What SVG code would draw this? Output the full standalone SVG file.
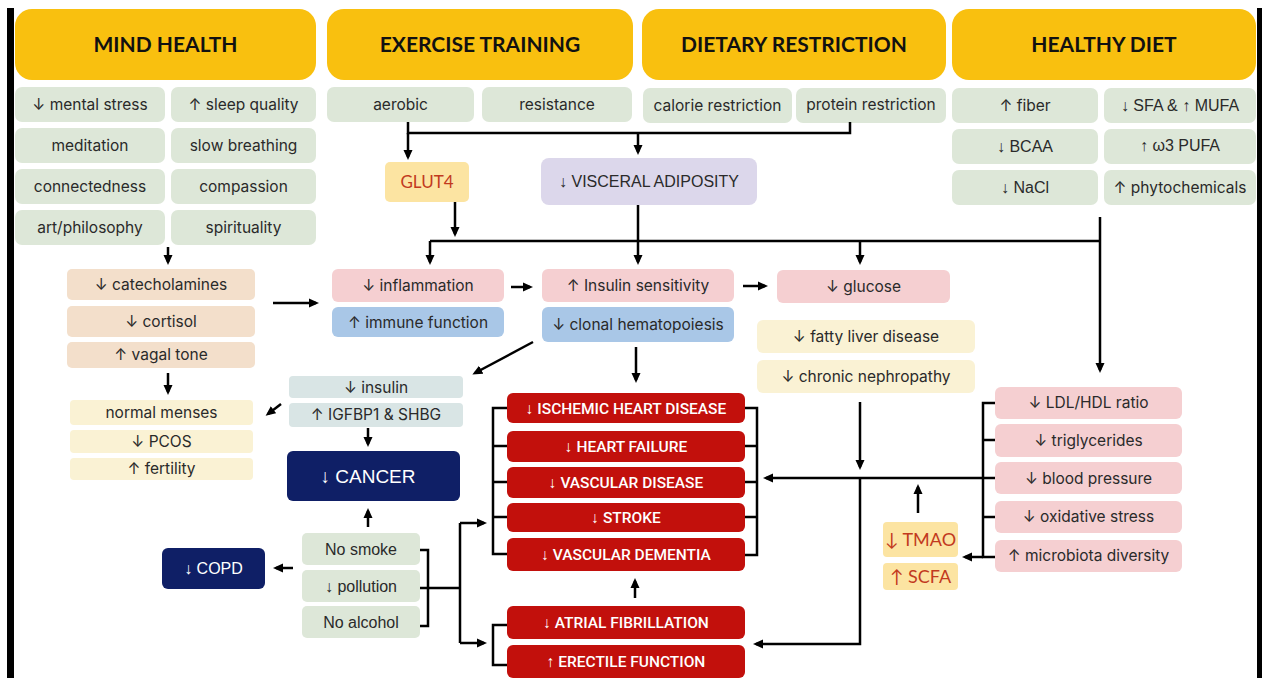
<svg xmlns="http://www.w3.org/2000/svg" width="1262" height="678" viewBox="0 0 1262 678">
<style>
.hd{fill:#F9C00F}
.hdt{font-family:Lato,"Open Sans",sans-serif;font-weight:700;font-size:21px;fill:#111;text-anchor:middle}
.gr{fill:#DDE7D8}
.t{font-family:Inter,"Noto Sans",sans-serif;font-size:15.5px;fill:#2a2a2a;text-anchor:middle}
.a{font-family:"Liberation Sans",Arial,sans-serif;font-size:16px;fill:#2a2a2a;text-anchor:middle}
.pk{fill:#F5CFD1}
.bl{fill:#A9C7E7}
.tan{fill:#F3DFCB}
.ly{fill:#FAF2D4}
.gy{fill:#D9E5E5}
.rd{fill:#C2100C}
.rt{font-family:Roboto,"Liberation Sans",sans-serif;font-weight:500;font-size:15.5px;fill:#fff;text-anchor:middle}
.nv{fill:#0F1F66}
.nt{font-family:"Liberation Sans",Arial,sans-serif;fill:#fff;text-anchor:middle}
.yb{fill:#FCE4A2}
.ot{font-family:Lato,"Liberation Sans",sans-serif;fill:#C23A1E;text-anchor:middle}
.c{fill:none;stroke:#000;stroke-width:2.5}
.ar{marker-end:url(#ah)}
</style>
<defs>
<marker id="ah" viewBox="0 0 10 10" refX="7" refY="5" markerWidth="10" markerHeight="10" markerUnits="userSpaceOnUse" orient="auto">
<path d="M0,0.5 L10,5 L0,9.5 z" fill="#000"/>
</marker>
</defs>
<rect x="0" y="0" width="1262" height="678" fill="#fff"/>
<rect x="7" y="8" width="7" height="670" fill="#000"/>
<rect x="1257" y="8" width="5" height="670" fill="#000"/>

<g id="h-mind"><rect class="hd" x="15" y="9" width="301" height="71" rx="17"/><text class="hdt" x="165.5" y="52">MIND HEALTH</text></g>
<g id="h-exercise"><rect class="hd" x="327" y="9" width="306" height="71" rx="17"/><text class="hdt" x="480" y="52">EXERCISE TRAINING</text></g>
<g id="h-dietary"><rect class="hd" x="642" y="9" width="304" height="71" rx="17"/><text class="hdt" x="794" y="52">DIETARY RESTRICTION</text></g>
<g id="h-healthy"><rect class="hd" x="952" y="9" width="304" height="71" rx="17"/><text class="hdt" x="1104" y="52">HEALTHY DIET</text></g>

<g id="mind-items">
<rect class="gr" x="15" y="87" width="150" height="35" rx="7"/><text class="t" x="90" y="110">↓ mental stress</text>
<rect class="gr" x="171" y="87" width="145" height="35" rx="7"/><text class="t" x="243.5" y="110">↑ sleep quality</text>
<rect class="gr" x="15" y="128" width="150" height="35" rx="7"/><text class="t" x="90" y="151">meditation</text>
<rect class="gr" x="171" y="128" width="145" height="35" rx="7"/><text class="t" x="243.5" y="151">slow breathing</text>
<rect class="gr" x="15" y="169" width="150" height="35" rx="7"/><text class="t" x="90" y="192">connectedness</text>
<rect class="gr" x="171" y="169" width="145" height="35" rx="7"/><text class="t" x="243.5" y="192">compassion</text>
<rect class="gr" x="15" y="210" width="150" height="35" rx="7"/><text class="t" x="90" y="233">art/philosophy</text>
<rect class="gr" x="171" y="210" width="145" height="35" rx="7"/><text class="t" x="243.5" y="233">spirituality</text>
</g>
<g id="exercise-items">
<rect class="gr" x="327" y="87" width="147" height="35" rx="7"/><text class="t" x="400.5" y="110">aerobic</text>
<rect class="gr" x="482" y="87" width="150" height="35" rx="7"/><text class="t" x="557" y="110">resistance</text>
</g>
<g id="dietary-items">
<rect class="gr" x="643" y="88" width="149" height="35" rx="7"/><text class="t" x="717.5" y="111">calorie restriction</text>
<rect class="gr" x="796" y="88" width="150" height="35" rx="7"/><text class="t" x="871" y="110">protein restriction</text>
</g>
<g id="healthy-items">
<rect class="gr" x="952" y="88" width="146" height="35" rx="7"/><text class="t" x="1025" y="111">↑ fiber</text>
<rect class="gr" x="1104" y="88" width="152" height="35" rx="7"/><text class="a" x="1180" y="111">↓ SFA &amp; ↑ MUFA</text>
<rect class="gr" x="952" y="129" width="146" height="35" rx="7"/><text class="a" x="1025" y="152">↓ BCAA</text>
<rect class="gr" x="1104" y="129" width="152" height="35" rx="7"/><text class="a" x="1180" y="151">↑ ω3 PUFA</text>
<rect class="gr" x="952" y="170" width="146" height="35" rx="7"/><text class="a" x="1025" y="193">↓ NaCl</text>
<rect class="gr" x="1104" y="170" width="152" height="35" rx="7"/><text class="t" x="1180" y="193">↑ phytochemicals</text>
</g>

<g id="glut4"><rect class="yb" x="385" y="162" width="84" height="40" rx="5"/><text class="ot" x="427" y="188" font-size="17">GLUT4</text></g>
<g id="visceral"><rect fill="#DCD7EB" x="541" y="158" width="216" height="47" rx="8"/><text class="a" x="649" y="187" font-size="16.5" fill="#222">↓ VISCERAL ADIPOSITY</text></g>

<g id="stress-hormones">
<rect class="tan" x="67" y="269" width="188" height="31" rx="5"/><text class="t" x="161" y="290">↓ catecholamines</text>
<rect class="tan" x="67" y="306" width="188" height="31" rx="5"/><text class="t" x="161" y="327">↓ cortisol</text>
<rect class="tan" x="67" y="342" width="188" height="26" rx="5"/><text class="t" x="161" y="360">↑ vagal tone</text>
</g>
<g id="reproductive">
<rect class="ly" x="70" y="400" width="183" height="25" rx="4"/><text class="t" x="161.5" y="418" font-size="15">normal menses</text>
<rect class="ly" x="70" y="430" width="183" height="23" rx="4"/><text class="t" x="161.5" y="447" font-size="15">↓ PCOS</text>
<rect class="ly" x="70" y="458" width="183" height="22" rx="4"/><text class="t" x="161.5" y="474" font-size="15">↑ fertility</text>
</g>

<g id="inflammation">
<rect class="pk" x="332" y="269" width="172" height="33" rx="6"/><text class="t" x="418" y="291">↓ inflammation</text>
<rect class="bl" x="332" y="307" width="172" height="30" rx="6"/><text class="t" x="418" y="328">↑ immune function</text>
</g>
<g id="insulin-sensitivity">
<rect class="pk" x="542" y="269" width="192" height="33" rx="6"/><text class="t" x="638" y="291">↑ Insulin sensitivity</text>
<rect class="bl" x="542" y="307" width="192" height="35" rx="6"/><text class="t" x="638" y="330">↓ clonal hematopoiesis</text>
</g>
<g id="glucose"><rect class="pk" x="777" y="270" width="173" height="33" rx="6"/><text class="t" x="863.5" y="292">↓ glucose</text></g>
<g id="liver-kidney">
<rect class="ly" x="757" y="320" width="218" height="33" rx="6"/><text class="t" x="866" y="342">↓ fatty liver disease</text>
<rect class="ly" x="757" y="360" width="218" height="33" rx="6"/><text class="t" x="866" y="382">↓ chronic nephropathy</text>
</g>

<g id="insulin">
<rect class="gy" x="289" y="376" width="174" height="22" rx="4"/><text class="t" x="376" y="393" font-size="15">↓ insulin</text>
<rect class="gy" x="289" y="403" width="174" height="24" rx="4"/><text class="t" x="376" y="420" font-size="15">↑ IGFBP1 &amp; SHBG</text>
</g>
<g id="cancer"><rect class="nv" x="287" y="451" width="173" height="50" rx="6"/><text class="nt" x="368" y="483" font-size="19">↓ CANCER</text></g>
<g id="copd"><rect class="nv" x="162" y="548" width="103" height="41" rx="6"/><text class="nt" x="213.5" y="574" font-size="16">↓ COPD</text></g>
<g id="environment">
<rect class="gr" x="302" y="533" width="118" height="32" rx="5"/><text class="a" x="361" y="555">No smoke</text>
<rect class="gr" x="302" y="570" width="118" height="32" rx="5"/><text class="a" x="361" y="592">↓ pollution</text>
<rect class="gr" x="302" y="606" width="118" height="32" rx="5"/><text class="a" x="361" y="628">No alcohol</text>
</g>

<g id="cardiovascular">
<rect class="rd" x="507" y="393" width="238" height="30" rx="6"/><text class="rt" x="626" y="413.5">↓ ISCHEMIC HEART DISEASE</text>
<rect class="rd" x="507" y="431" width="238" height="31" rx="6"/><text class="rt" x="626" y="452">↓ HEART FAILURE</text>
<rect class="rd" x="507" y="467" width="238" height="31" rx="6"/><text class="rt" x="626" y="488">↓ VASCULAR DISEASE</text>
<rect class="rd" x="507" y="503" width="238" height="29" rx="6"/><text class="rt" x="626" y="523">↓ STROKE</text>
<rect class="rd" x="507" y="538" width="238" height="33" rx="6"/><text class="rt" x="626" y="560">↓ VASCULAR DEMENTIA</text>
</g>
<g id="af-ef">
<rect class="rd" x="507" y="606" width="238" height="33" rx="6"/><text class="rt" x="626" y="628">↓ ATRIAL FIBRILLATION</text>
<rect class="rd" x="507" y="645" width="238" height="33" rx="6"/><text class="rt" x="626" y="667">↑ ERECTILE FUNCTION</text>
</g>

<g id="lipids">
<rect class="pk" x="995" y="387" width="187" height="32" rx="6"/><text class="t" x="1088.5" y="408">↓ LDL/HDL ratio</text>
<rect class="pk" x="995" y="424" width="187" height="33" rx="6"/><text class="t" x="1088.5" y="446">↓ triglycerides</text>
<rect class="pk" x="995" y="462" width="187" height="32" rx="6"/><text class="t" x="1088.5" y="484">↓ blood pressure</text>
<rect class="pk" x="995" y="501" width="187" height="32" rx="6"/><text class="t" x="1088.5" y="522">↓ oxidative stress</text>
<rect class="pk" x="995" y="540" width="187" height="32" rx="6"/><text class="t" x="1088.5" y="561">↑ microbiota diversity</text>
</g>
<g id="microbiome">
<rect class="yb" x="883" y="522" width="75" height="35" rx="4"/><text class="ot" x="920.5" y="546" font-size="18">↓ TMAO</text>
<rect class="yb" x="883" y="563" width="75" height="27" rx="4"/><text class="ot" x="920.5" y="583" font-size="18">↑ SCFA</text>
</g>

<g id="connectors">
<path class="c ar" d="M168,247 V262"/>
<path class="c ar" d="M273,303 H316"/>
<path class="c ar" d="M168,373 V392"/>
<path class="c" d="M408,122 V133 H850 V122"/>
<path class="c ar" d="M408,133 V157"/>
<path class="c ar" d="M638,133 V152"/>
<path class="c ar" d="M455,202 V234"/>
<path class="c" d="M430,241 H1100 M1100,217 V241"/>
<path class="c ar" d="M430,241 V262"/>
<path class="c ar" d="M638,205 V262"/>
<path class="c ar" d="M860,241 V262"/>
<path class="c ar" d="M1100,241 V370"/>
<path class="c ar" d="M511,287 H530"/>
<path class="c ar" d="M743,286 H765"/>
<path class="c ar" d="M636,347 V380"/>
<path class="c ar" d="M533,342 L475,373"/>
<path class="c ar" d="M368,428 V444"/>
<path class="c ar" d="M281,404 L268,414"/>
<path class="c ar" d="M860,402 V467"/>
<path class="c ar" d="M983,478 H766"/>
<path class="c" d="M995,403 H983 V557 H995 M983,440 H995 M983,478 H995 M983,517 H995"/>
<path class="c ar" d="M983,557 H965"/>
<path class="c ar" d="M918,513 V487"/>
<path class="c ar" d="M860,478 V644 H756"/>
<path class="c" d="M507,408 H493 V554 H507 M493,446 H507 M493,482 H507 M493,517 H507"/>
<path class="c" d="M745,408 H757 V555 H745 M745,446 H757 M745,482 H757 M745,517 H757"/>
<path class="c ar" d="M635,598 V581"/>
<path class="c" d="M420,550 H428 V626 H420 M420,588 H460 M460,523 V643"/>
<path class="c ar" d="M460,523 H484"/>
<path class="c ar" d="M460,643 H484"/>
<path class="c" d="M507,625 H493 V665 H507"/>
<path class="c ar" d="M368,527 V511"/>
<path class="c ar" d="M293,568 H276"/>
</g>
</svg>
